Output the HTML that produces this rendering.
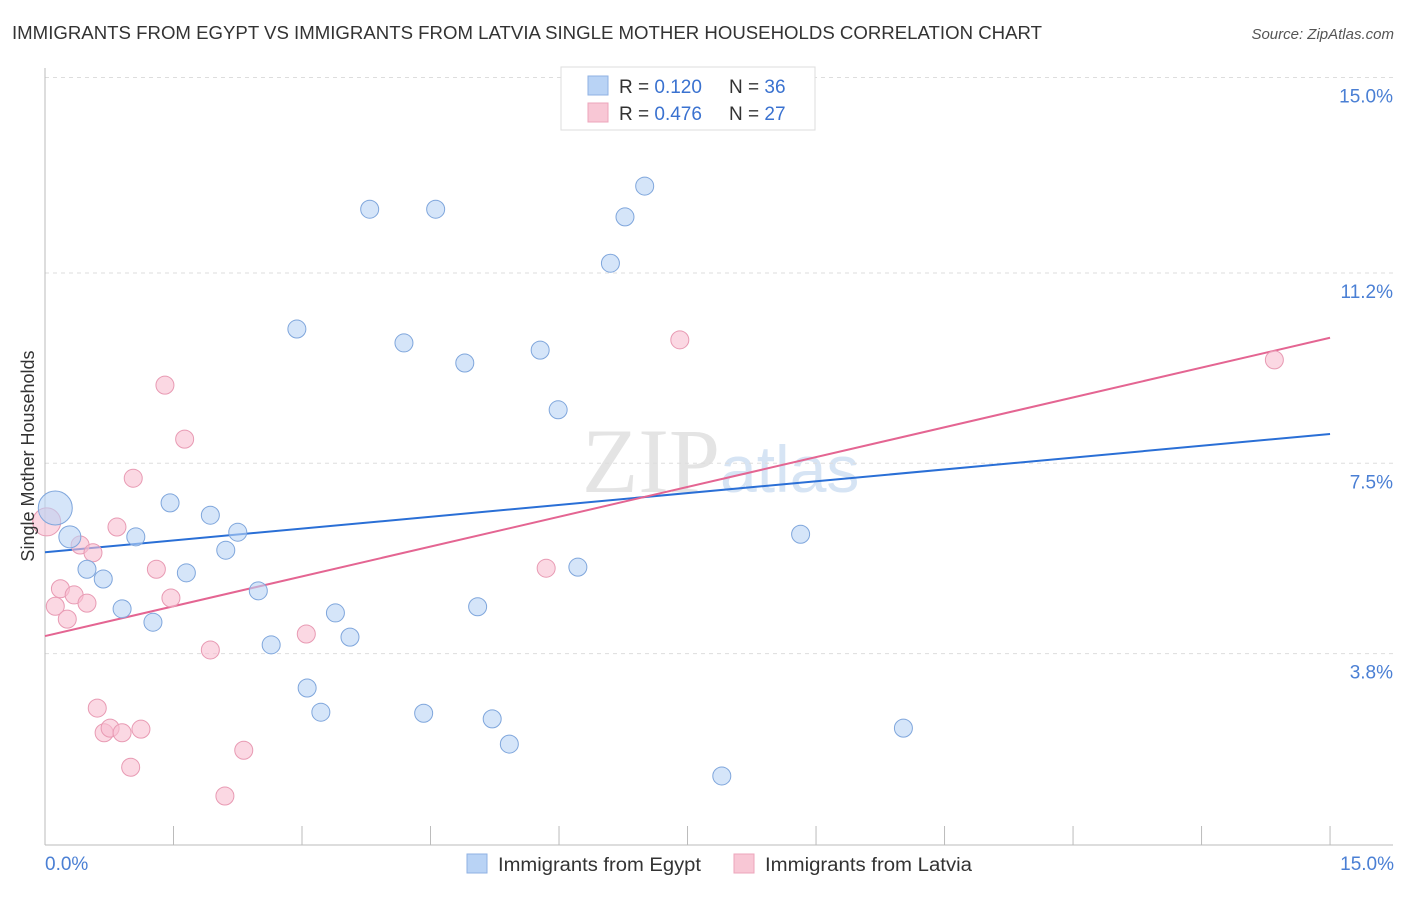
<!DOCTYPE html>
<html><head><meta charset="utf-8"><style>
body{margin:0;background:#fff;font-family:"Liberation Sans",sans-serif;}
</style></head><body>
<svg id="c" width="1406" height="892" xmlns="http://www.w3.org/2000/svg" style="font-family:'Liberation Sans',sans-serif">
<text x="12" y="39" font-size="18" fill="#333" textLength="1030" lengthAdjust="spacingAndGlyphs">IMMIGRANTS FROM EGYPT VS IMMIGRANTS FROM LATVIA SINGLE MOTHER HOUSEHOLDS CORRELATION CHART</text>
<text x="1394" y="39" font-size="15" fill="#555" font-style="italic" text-anchor="end">Source: ZipAtlas.com</text>
<text x="720" y="492" font-size="92" fill="#e4e4e4" text-anchor="end" font-family="Liberation Serif">ZIP</text>
<text x="720" y="492" font-size="66" fill="#d6e4f4">atlas</text>
<g id="grid"></g><g id="axes"></g><g id="lines"></g><g id="pts"></g>
<text transform="translate(34,456) rotate(-90)" font-size="18" fill="#333" text-anchor="middle">Single Mother Households</text>
<text x="45" y="870" font-size="19" fill="#4a7fd4">0.0%</text>
<text x="1394" y="870" font-size="19" fill="#4a7fd4" text-anchor="end">15.0%</text>
<g>
<rect x="561" y="67" width="254" height="63" fill="#fff" stroke="#ddd"/>
<rect x="588" y="76" width="20" height="19" fill="#b9d3f5" stroke="#8fb2e3"/>
<rect x="588" y="103" width="20" height="19" fill="#f8c7d5" stroke="#eda5bb"/>
<text x="619" y="93" font-size="19" fill="#333">R = <tspan fill="#3a72d0">0.120</tspan></text>
<text x="729" y="93" font-size="19" fill="#333">N = <tspan fill="#3a72d0">36</tspan></text>
<text x="619" y="120" font-size="19" fill="#333">R = <tspan fill="#3a72d0">0.476</tspan></text>
<text x="729" y="120" font-size="19" fill="#333">N = <tspan fill="#3a72d0">27</tspan></text>
</g>
<g>
<rect x="467" y="854" width="20" height="19" fill="#b9d3f5" stroke="#8fb2e3"/>
<text x="498" y="871" font-size="19" fill="#333" textLength="203" lengthAdjust="spacingAndGlyphs">Immigrants from Egypt</text>
<rect x="734" y="854" width="20" height="19" fill="#f8c7d5" stroke="#eda5bb"/>
<text x="765" y="871" font-size="19" fill="#333" textLength="207" lengthAdjust="spacingAndGlyphs">Immigrants from Latvia</text>
</g>
</svg>
<script>
const yTicks=[15,11.2,7.5,3.8];
const yTickLabels=["15.0%","11.2%","7.5%","3.8%"];
const xTicks=[0,1.5,3,4.5,6,7.5,9,10.5,12,13.5,15];
const egyptX=[0.12,0.29,0.49,0.68,0.90,1.06,1.26,1.46,1.65,1.93,2.11,2.25,2.49,2.64,2.94,3.06,3.22,3.39,3.56,3.79,4.19,4.42,4.56,4.90,5.05,5.22,5.42,5.78,5.99,6.22,6.60,6.77,7.00,7.90,8.82,10.02];
const egyptY=[6.63,6.07,5.44,5.25,4.67,6.07,4.41,6.73,5.37,6.49,5.81,6.16,5.02,3.97,10.11,3.13,2.66,4.59,4.12,12.44,9.84,2.64,12.44,9.45,4.71,2.53,2.04,9.70,8.54,5.48,11.39,12.29,12.89,1.42,6.12,2.35];
const egyptR=[17,11,9,9,9,9,9,9,9,9,9,9,9,9,9,9,9,9,9,9,9,9,9,9,9,9,9,9,9,9,9,9,9,9,9,9];
const latviaX=[0.02,0.12,0.18,0.26,0.34,0.41,0.49,0.56,0.61,0.69,0.76,0.84,0.90,1.00,1.03,1.12,1.30,1.40,1.47,1.63,1.93,2.10,2.32,3.05,5.85,7.41,14.35];
const latviaY=[6.36,4.72,5.06,4.47,4.94,5.91,4.78,5.76,2.74,2.26,2.35,6.26,2.26,1.59,7.21,2.33,5.44,9.02,4.88,7.97,3.87,1.03,1.92,4.18,5.46,9.90,9.51];
const latviaR=[14,9,9,9,9,9,9,9,9,9,9,9,9,9,9,9,9,9,9,9,9,9,9,9,9,9,9];
const trendEgypt=[5.77,8.07];
const trendLatvia=[4.14,9.94];
const X=v=>45+v*85.67, Y=v=>849-v*51.43;
const NS="http://www.w3.org/2000/svg";
function mk(p,t,a){const e=document.createElementNS(NS,t);for(const k in a)e.setAttribute(k,a[k]);document.getElementById(p).appendChild(e);return e;}
yTicks.forEach((t,i)=>{
 const l=mk('grid','line',{x1:45,x2:1393,y1:Y(t),y2:Y(t),stroke:'#ddd','stroke-dasharray':'4,4'});
 
 
 const tx=mk('grid','text',{x:1393,y:Y(t)+25,'font-size':19,fill:'#4a7fd4','text-anchor':'end'});
 tx.textContent=yTickLabels[i];
 
 
});
let a=mk('axes','line',{x1:45,x2:45,y1:68,y2:845,stroke:'#bbb'});


a=mk('axes','line',{x1:45,x2:1393,y1:845,y2:845,stroke:'#bbb'});


xTicks.forEach(t=>{const l=mk('axes','line',{x1:X(t),x2:X(t),y1:826,y2:845,stroke:'#bbb'});
 
 });
function pts(xs,ys,rs,fill,stroke,name){xs.forEach((x,i)=>{const c=mk('pts','circle',{cx:X(x),cy:Y(ys[i]),r:rs[i],fill:fill,stroke:stroke,'stroke-width':1});
 
 });}
pts(latviaX,latviaY,latviaR,'rgba(248,190,208,0.6)','#e89ab3','latvia-point');
pts(egyptX,egyptY,egyptR,'rgba(185,211,245,0.6)','#7fa6dc','egypt-point');
let t=mk('lines','line',{x1:X(0),x2:X(15),y1:Y(trendEgypt[0]),y2:Y(trendEgypt[1]),stroke:'#2a6fd6','stroke-width':2});


t=mk('lines','line',{x1:X(0),x2:X(15),y1:Y(trendLatvia[0]),y2:Y(trendLatvia[1]),stroke:'#e46592','stroke-width':2});


</script>
</body></html>
